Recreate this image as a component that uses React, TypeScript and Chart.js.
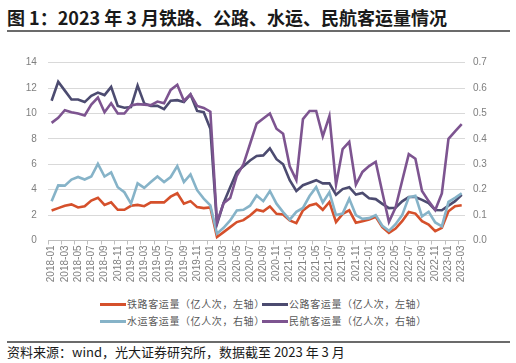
import React, { useEffect, useRef } from "react";
import { Chart, registerables } from "chart.js";

Chart.register(...registerables);

const months: string[] = [];
for (let y = 2018; y <= 2023; y++) {
  for (let m = 1; m <= 12; m++) {
    if (y === 2023 && m > 3) break;
    months.push(`${y}-${m < 10 ? "0" + m : m}`);
  }
}

const railway = [
  2.37, 2.55, 2.73, 2.84, 2.6, 2.7, 3.15, 3.37, 2.8, 3.0, 2.42, 2.42,
  2.73, 2.8, 2.7, 3.0, 3.0, 3.0, 3.45, 3.72, 2.9, 3.1, 2.63, 2.55,
  2.6, 0.28, 0.66, 1.05, 1.45, 1.6, 1.97, 2.42, 2.3, 2.68, 2.1, 2.05,
  1.58, 1.37, 2.37, 2.76, 2.9, 2.42, 3.03, 1.45, 2.1, 2.38, 1.4, 1.52,
  1.65, 1.86, 1.05, 0.6, 0.94, 1.52, 2.25, 2.12, 1.52, 1.26, 0.73, 1.0,
  2.3, 2.7, 2.77,
];

const highway = [
  11.0, 12.5, 11.8, 11.1, 11.1, 10.9, 11.4, 11.65, 11.45, 12.1, 10.6, 10.45,
  10.5, 12.2, 10.8, 10.6, 10.6, 10.35, 11.0, 11.05, 10.9, 11.5, 10.2, 10.1,
  8.8, 1.3, 2.95, 4.2, 5.4, 5.85, 6.3, 6.65, 6.7, 7.25, 6.4, 6.0,
  4.75, 3.9, 4.35, 4.55, 4.75, 4.5, 4.5, 3.6, 4.05, 4.2, 3.62, 3.75,
  3.33, 3.26, 2.88, 2.55, 2.58, 3.08, 3.42, 3.42, 3.2, 2.94, 2.4, 2.38,
  2.75, 3.1, 3.6,
];

const water = [
  0.155, 0.217, 0.216, 0.24, 0.25, 0.24, 0.252, 0.302, 0.252, 0.268, 0.21, 0.19,
  0.145, 0.225, 0.207, 0.23, 0.252, 0.23, 0.25, 0.293, 0.23, 0.26, 0.198, 0.165,
  0.138, 0.027, 0.05, 0.079, 0.118, 0.121, 0.137, 0.177, 0.155, 0.195, 0.145, 0.112,
  0.082, 0.113, 0.128, 0.175, 0.21, 0.15, 0.19, 0.1, 0.106, 0.164, 0.1, 0.085,
  0.088, 0.1, 0.058, 0.038, 0.064, 0.1, 0.17, 0.176, 0.095, 0.113, 0.071, 0.056,
  0.152, 0.168, 0.186,
];

const aviation = [
  0.463, 0.483, 0.513, 0.505, 0.5, 0.492, 0.535, 0.563, 0.505, 0.54, 0.5, 0.5,
  0.532, 0.537, 0.535, 0.533, 0.547, 0.54, 0.593, 0.613, 0.55, 0.575, 0.53, 0.522,
  0.507, 0.07, 0.147, 0.167, 0.255, 0.3, 0.38, 0.46, 0.48, 0.5, 0.44, 0.42,
  0.292, 0.238, 0.478, 0.51, 0.51, 0.41, 0.49, 0.22, 0.36, 0.388, 0.22, 0.27,
  0.293, 0.31, 0.19, 0.073, 0.13, 0.235, 0.34, 0.322, 0.195, 0.155, 0.12, 0.185,
  0.4, 0.43, 0.458,
];

const seriesNames = [
  "铁路客运量（亿人次，左轴）",
  "公路客运量（亿人次，左轴）",
  "水运客运量（亿人次，右轴）",
  "民航客运量（亿人次，右轴）",
];
const seriesColors = ["#d5502b", "#4c4b70", "#86b3c8", "#7d5490"];

const leftTicks = [0, 2, 4, 6, 8, 10, 12, 14];
const rightTicks = [0, 0.1, 0.2, 0.3, 0.4, 0.5, 0.6, 0.7];

const CJK = '"Noto Sans CJK SC", "Noto Sans", sans-serif';
const NUM = '"Liberation Sans", Arial, sans-serif';

export default function App() {
  const ref = useRef<HTMLCanvasElement>(null);

  useEffect(() => {
    if (!ref.current) return;
    const mk = (i: number, data: number[], axis: string) => ({
      label: seriesNames[i],
      data,
      yAxisID: axis,
      borderColor: seriesColors[i],
      backgroundColor: seriesColors[i],
      borderWidth: 2.6,
      pointRadius: 0,
      tension: 0,
      fill: false,
    });
    const chart = new Chart(ref.current, {
      type: "line",
      data: {
        labels: months,
        datasets: [
          mk(3, aviation, "y1"),
          mk(2, water, "y1"),
          mk(1, highway, "y"),
          mk(0, railway, "y"),
        ],
      },
      options: {
        animation: false,
        responsive: false,
        devicePixelRatio: 1,
        layout: { padding: { top: 26.7, left: 0, right: 0, bottom: 0 } },
        plugins: { legend: { display: false }, tooltip: { enabled: false } },
        scales: {
          x: {
            type: "category",
            offset: true,
            grid: {
              offset: true,
              drawOnChartArea: false,
              drawTicks: true,
              tickLength: 4,
              tickColor: (ctx: any) => (ctx.index % 2 === 0 ? "#bfbfbf" : "rgba(0,0,0,0)"),
            },
            border: { display: true, color: "#bfbfbf", width: 1 },
            ticks: {
              autoSkip: false,
              minRotation: 90,
              maxRotation: 90,
              padding: 1,
              color: "#7f7f7f",
              font: { family: NUM, size: 10 },
              callback: (_v: any, i: number) => (i % 2 === 0 ? months[i] : ""),
            },
            afterFit: (s: any) => {
              s.height = 49.5;
            },
          },
          y: {
            position: "left",
            min: 0,
            max: 14,
            afterBuildTicks: (s: any) => {
              s.ticks = leftTicks.map((v) => ({ value: v }));
            },
            ticks: {
              padding: 11.5,
              color: "#7f7f7f",
              font: { family: NUM, size: 10 },
              callback: (v: any) => String(v),
            },
            grid: { color: "#d9d9d9", lineWidth: 1, drawTicks: false },
            border: { display: false },
            afterFit: (s: any) => {
              s.width = 48.3;
            },
          },
          y1: {
            position: "right",
            min: 0,
            max: 0.7,
            afterBuildTicks: (s: any) => {
              s.ticks = rightTicks.map((v) => ({ value: v }));
            },
            ticks: {
              padding: 8,
              color: "#7f7f7f",
              font: { family: NUM, size: 10 },
              callback: (v: any) => Number(v).toFixed(1),
            },
            grid: { drawOnChartArea: false, drawTicks: false },
            border: { display: false },
            afterFit: (s: any) => {
              s.width = 51;
            },
          },
        },
      } as any,
    });
    return () => chart.destroy();
  }, []);

  const legendItems = [
    { i: 0, x: 100, y: 304 },
    { i: 1, x: 262, y: 304 },
    { i: 2, x: 100, y: 321 },
    { i: 3, x: 262, y: 321 },
  ];

  return (
    <div
      style={{
        position: "absolute",
        left: 0,
        top: 0,
        width: 516,
        height: 363,
        background: "#fff",
        overflow: "hidden",
      }}
    >
      <div
        style={{
          position: "absolute",
          left: 7,
          top: 5,
          fontFamily: CJK,
          fontSize: 18,
          fontWeight: 700,
          lineHeight: "24px",
          color: "#1a1a1a",
          whiteSpace: "nowrap",
        }}
      >
        图 1：2023 年 3 月铁路、公路、水运、民航客运量情况
      </div>
      <div
        style={{
          position: "absolute",
          left: 7,
          top: 30,
          width: 503,
          height: 2,
          background: "#6b6b6b",
        }}
      />
      <canvas
        ref={ref}
        width={516}
        height={254}
        style={{ position: "absolute", left: 0, top: 36, width: 516, height: 254 }}
      />
      {legendItems.map((it) => (
        <React.Fragment key={it.i}>
          <div
            style={{
              position: "absolute",
              left: it.x,
              top: it.y - 1.5,
              width: 26,
              height: 3,
              background: seriesColors[it.i],
            }}
          />
          <div
            style={{
              position: "absolute",
              left: it.x + 27,
              top: it.y - 7,
              fontFamily: CJK,
              fontSize: 10,
              letterSpacing: "0.6px",
              lineHeight: "14px",
              color: "#595959",
              whiteSpace: "nowrap",
            }}
          >
            {seriesNames[it.i]}
          </div>
        </React.Fragment>
      ))}
      <div
        style={{
          position: "absolute",
          left: 7,
          top: 341,
          width: 503,
          height: 2,
          background: "#6b6b6b",
        }}
      />
      <div
        style={{
          position: "absolute",
          left: 7,
          top: 343,
          fontFamily: CJK,
          fontSize: 13,
          lineHeight: "18px",
          color: "#1a1a1a",
          whiteSpace: "nowrap",
        }}
      >
        资料来源：wind，光大证券研究所，数据截至 2023 年 3 月
      </div>
    </div>
  );
}
